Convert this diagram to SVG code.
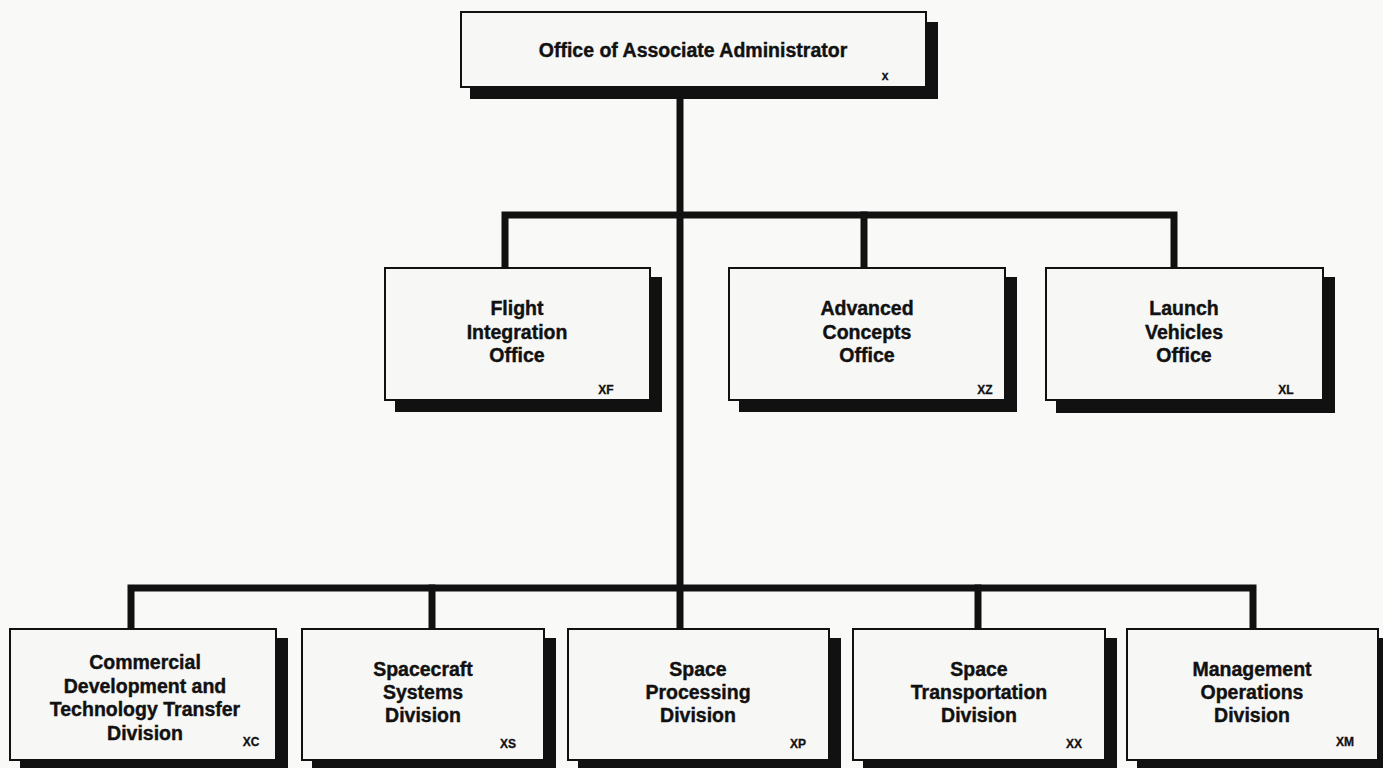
<svg xmlns="http://www.w3.org/2000/svg" width="1383" height="768" viewBox="0 0 1383 768">
<style>
.bg{fill:#f9f9f7}
.sh{fill:#111}
.box{fill:#f7f7f5;stroke:#111;stroke-width:2}
.t{font-family:"Liberation Sans",Arial,sans-serif;font-weight:bold;font-size:19.5px;fill:#111;stroke:#111;stroke-width:0.4;text-anchor:middle}
.c{font-family:"Liberation Sans",Arial,sans-serif;font-weight:bold;font-size:12px;fill:#111;stroke:#111;stroke-width:0.3;text-anchor:middle}
.ln{fill:none;stroke:#111;stroke-width:7;stroke-linejoin:miter;stroke-linecap:square}
</style>
<rect class="bg" x="0" y="0" width="1383" height="768"/>
<g id="connectors">
<path class="ln" d="M680 99 V626"/>
<path class="ln" d="M505 266 V215 H1174 V266"/>
<path class="ln" d="M864 215 V266"/>
<path class="ln" d="M131 626 V588 H1253 V626"/>
<path class="ln" d="M432 588 V626"/>
<path class="ln" d="M978 588 V626"/>
</g>
<g id="node-x">
<rect class="sh" x="470" y="22" width="468" height="77"/>
<rect class="box" x="461" y="12" width="465" height="75"/>
<text class="t" x="693" y="57">Office of Associate Administrator</text>
<text class="c" x="885" y="80">x</text>
</g>
<g id="node-xf">
<rect class="sh" x="395" y="277" width="267" height="135"/>
<rect class="box" x="385" y="268" width="265" height="132"/>
<text class="t" x="517" y="315">Flight</text>
<text class="t" x="517" y="338.5">Integration</text>
<text class="t" x="517" y="362">Office</text>
<text class="c" x="606" y="394">XF</text>
</g>
<g id="node-xz">
<rect class="sh" x="739" y="277" width="278" height="135"/>
<rect class="box" x="729" y="268" width="276" height="132"/>
<text class="t" x="867" y="315">Advanced</text>
<text class="t" x="867" y="338.5">Concepts</text>
<text class="t" x="867" y="362">Office</text>
<text class="c" x="985" y="394">XZ</text>
</g>
<g id="node-xl">
<rect class="sh" x="1056" y="277" width="279" height="136"/>
<rect class="box" x="1046" y="268" width="277" height="132"/>
<text class="t" x="1184" y="315">Launch</text>
<text class="t" x="1184" y="338.5">Vehicles</text>
<text class="t" x="1184" y="362">Office</text>
<text class="c" x="1286" y="394">XL</text>
</g>
<g id="node-xc">
<rect class="sh" x="20" y="638" width="268" height="140"/>
<rect class="box" x="10" y="629" width="266" height="131"/>
<text class="t" x="145" y="669">Commercial</text>
<text class="t" x="145" y="692.5">Development and</text>
<text class="t" x="145" y="716">Technology Transfer</text>
<text class="t" x="145" y="740">Division</text>
<text class="c" x="251" y="746">XC</text>
</g>
<g id="node-xs">
<rect class="sh" x="312" y="638" width="244" height="140"/>
<rect class="box" x="302" y="629" width="242" height="131"/>
<text class="t" x="423" y="676">Spacecraft</text>
<text class="t" x="423" y="699">Systems</text>
<text class="t" x="423" y="722">Division</text>
<text class="c" x="508" y="748">XS</text>
</g>
<g id="node-xp">
<rect class="sh" x="578" y="638" width="263" height="140"/>
<rect class="box" x="568" y="629" width="261" height="131"/>
<text class="t" x="698" y="676">Space</text>
<text class="t" x="698" y="699">Processing</text>
<text class="t" x="698" y="722">Division</text>
<text class="c" x="798" y="748">XP</text>
</g>
<g id="node-xx">
<rect class="sh" x="863" y="638" width="254" height="140"/>
<rect class="box" x="853" y="629" width="252" height="131"/>
<text class="t" x="979" y="676">Space</text>
<text class="t" x="979" y="699">Transportation</text>
<text class="t" x="979" y="722">Division</text>
<text class="c" x="1074" y="748">XX</text>
</g>
<g id="node-xm">
<rect class="sh" x="1137" y="638" width="254" height="140"/>
<rect class="box" x="1127" y="629" width="251" height="131"/>
<text class="t" x="1252" y="676">Management</text>
<text class="t" x="1252" y="699">Operations</text>
<text class="t" x="1252" y="722">Division</text>
<text class="c" x="1345" y="746">XM</text>
</g>
</svg>
